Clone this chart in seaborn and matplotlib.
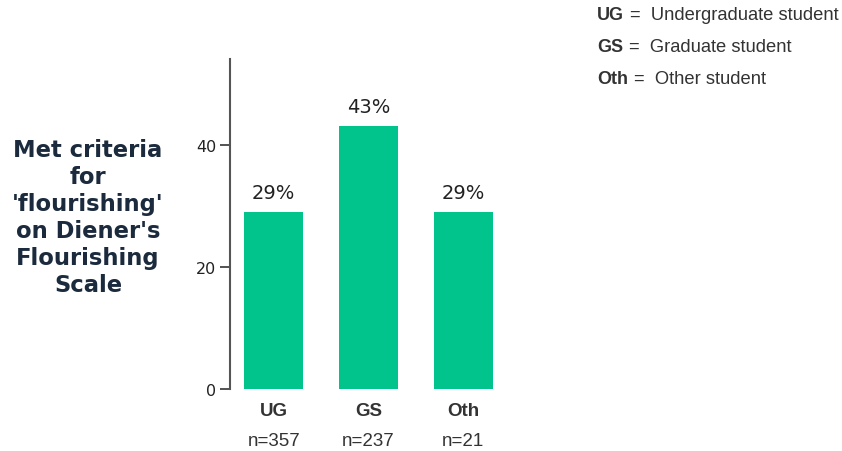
import matplotlib
matplotlib.use("Agg")
import matplotlib.pyplot as plt
import matplotlib.transforms as mtransforms
import seaborn as sns
import pandas as pd

categories = ["UG", "GS", "Oth"]
values = [29, 43, 29]
n_labels = ["n=357", "n=237", "n=21"]
legend_codes = ["UG", "GS", "Oth"]
legend_names = ["Undergraduate student", "Graduate student", "Other student"]
y_ticks = [0, 20, 40]
y_label = "Met criteria\nfor\n'flourishing'\non Diener's\nFlourishing\nScale"

sns.set_theme(style="white")
plt.rcParams['font.family'] = ['DejaVu Sans']

df = pd.DataFrame({"cat": categories, "val": values})

fig = plt.figure(figsize=(8.42, 4.52), dpi=100)
ax = fig.add_axes([0.2732, 0.1372, 0.329, 0.7301])

bar_color = "#00c48c"
sns.barplot(data=df, x="cat", y="val", color=bar_color, width=0.62,
            saturation=1, ax=ax, edgecolor="none")

ax.set_xlim(-0.46, 2.46)
ax.set_ylim(0, 54)
ax.set_yticks(y_ticks)
ax.set_yticklabels([str(t) for t in y_ticks], fontsize=11.5, color="#222222")
ax.tick_params(axis="y", length=7, width=1.3, color="#444444", pad=3, left=True)
ax.tick_params(axis="x", length=0, labelbottom=False)
for s in ["top", "right", "bottom"]:
    ax.spines[s].set_visible(False)
ax.spines["left"].set_color("#555555")
ax.spines["left"].set_linewidth(1.5)
ax.set_xlabel("")
ax.set_ylabel("")

for c in ax.containers:
    ax.bar_label(c, labels=[f"{v}%" for v in values], padding=7,
                 fontsize=14, color="#222222")

trans = mtransforms.blended_transform_factory(ax.transData, ax.transAxes)
for i, (cat, nl) in enumerate(zip(categories, n_labels)):
    ax.text(i, -0.04, cat, transform=trans, ha="center", va="top",
            fontsize=13.5, fontweight="bold", color="#333333",
            family="Liberation Sans")
    ax.text(i, -0.13, nl, transform=trans, ha="center", va="top",
            fontsize=13.5, color="#333333", family="Liberation Sans")

fig.text(88 / 842, 1 - 218 / 452, y_label, ha="center", va="center",
         fontsize=16.3, fontweight="bold", color="#1b2b3d",
         linespacing=1.22)

for i, (code, name) in enumerate(zip(legend_codes, legend_names)):
    y = 1 - (15 + i * 32.5) / 452
    t = fig.text(597 / 842, y, code, ha="left", va="center", fontsize=13,
                 fontweight="bold", color="#333333", family="Liberation Sans")
    fig.canvas.draw()
    bb = t.get_window_extent()
    t2 = fig.text((bb.x1 + 6) / 842, y, "=  " + name, ha="left", va="center",
                  fontsize=13.2, color="#333333", family="Liberation Sans")

fig.savefig("out.png", dpi=100)
